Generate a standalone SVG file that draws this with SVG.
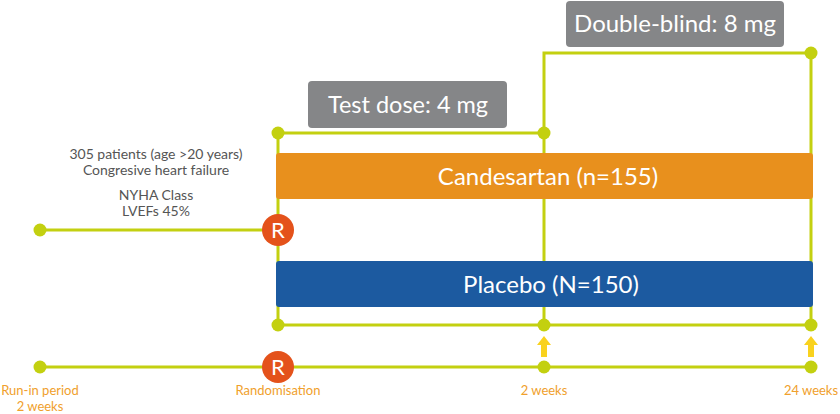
<svg xmlns="http://www.w3.org/2000/svg" width="840" height="414" viewBox="0 0 840 414">
<defs>
<style>
.ln{stroke:#c3d010;stroke-width:3;fill:none}
.dot{fill:#c3d010}
.r{fill:#e4521b}
.rt{fill:#fff;font-family:Lato,"Open Sans",sans-serif;font-size:22px;text-anchor:middle}
.gb{fill:#858688}
.gt{fill:#fff;font-family:Lato,"Open Sans",sans-serif;text-anchor:middle}
.bt{fill:#fff;font-family:Lato,"Open Sans",sans-serif;font-size:24px;text-anchor:middle}
.lt{fill:#555;font-family:Lato,"Open Sans",sans-serif;font-size:14px;text-anchor:middle}
.ot{fill:#f0a02c;font-family:Lato,"Open Sans",sans-serif;font-size:13px;text-anchor:middle}
.ar{fill:#f9d21e}
</style>
</defs>
<g id="connectors">
<path class="ln" d="M40 230H278M278 133H544M544 133V53H811V325M278 133V325M544 133V325M278 325H811M40 367H811"/>
</g>
<g id="dots">
<circle class="dot" cx="40" cy="230" r="6.5"/>
<circle class="dot" cx="278" cy="133" r="6.5"/>
<circle class="dot" cx="544" cy="133" r="6.5"/>
<circle class="dot" cx="811" cy="53" r="6.5"/>
<circle class="dot" cx="278" cy="325" r="6.5"/>
<circle class="dot" cx="544" cy="325" r="6.5"/>
<circle class="dot" cx="811" cy="325" r="6.5"/>
<circle class="dot" cx="40" cy="367" r="6.5"/>
<circle class="dot" cx="544" cy="367" r="6.5"/>
<circle class="dot" cx="811" cy="367" r="6.5"/>
</g>
<g id="arrows">
<path class="ar" d="M544 336L551 345H547V357H541V345H537Z"/>
<path class="ar" d="M811 336L818 345H814V357H808V345H804Z"/>
</g>
<g id="candesartan">
<rect x="276" y="153" width="537" height="46" rx="3" fill="#e8901d"/>
<text class="bt" x="548" y="185">Candesartan (n=155)</text>
</g>
<g id="placebo">
<rect x="276" y="261" width="537" height="46" rx="3" fill="#1c5aa0"/>
<text class="bt" x="551" y="293">Placebo (N=150)</text>
</g>
<g id="test-dose">
<rect class="gb" x="308" y="81" width="199" height="47" rx="4"/>
<text class="gt" x="408" y="113" font-size="23.5">Test dose: 4 mg</text>
</g>
<g id="double-blind">
<rect class="gb" x="566" y="1" width="218" height="46" rx="4"/>
<text class="gt" x="675" y="32" font-size="24">Double-blind: 8 mg</text>
</g>
<g id="r-mid">
<circle class="r" cx="278" cy="230" r="16"/>
<text class="rt" x="278" y="238">R</text>
</g>
<g id="r-bottom">
<circle class="r" cx="278" cy="367" r="16"/>
<text class="rt" x="278" y="375">R</text>
</g>
<g id="patients">
<text class="lt" x="156" y="159">305 patients (age &gt;20 years)</text>
<text class="lt" x="156" y="175">Congresive heart failure</text>
<text class="lt" x="156" y="200">NYHA Class</text>
<text class="lt" x="156" y="216">LVEFs 45%</text>
</g>
<g id="labels">
<text class="ot" x="40" y="395">Run-in period</text>
<text class="ot" x="40" y="411">2 weeks</text>
<text class="ot" x="278" y="395">Randomisation</text>
<text class="ot" x="544" y="395">2 weeks</text>
<text class="ot" x="811" y="395">24 weeks</text>
</g>
</svg>
